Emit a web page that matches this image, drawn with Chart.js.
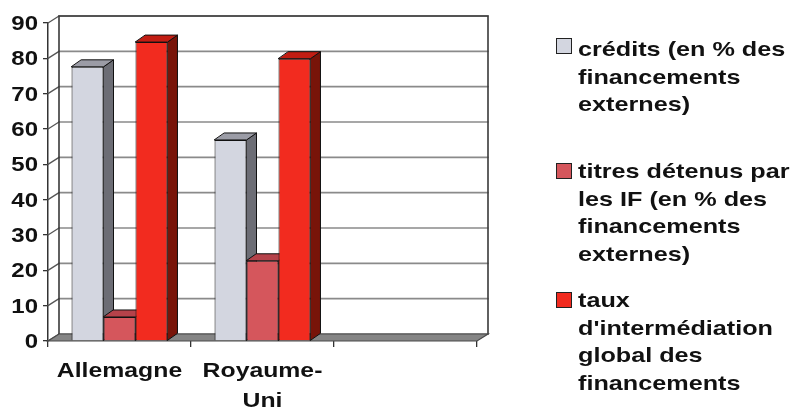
<!DOCTYPE html>
<html lang="fr">
<head>
<meta charset="utf-8">
<title>Intermédiation financière</title>
<script src="https://cdn.jsdelivr.net/npm/chart.js@4"></script>
<style>
  html, body { margin: 0; padding: 0; background: #fff; }
  #wrap { width: 795px; height: 412px; }
</style>
</head>
<body>
<div id="wrap"><canvas id="chart" width="795" height="412"></canvas></div>
<script>
// Categories (the third slot is left empty on purpose)
const categories = ['Allemagne', ['Royaume-', 'Uni'], ''];

// Series values, in %
const credits = [77.6, 56.9, null];
const titres  = [6.8, 22.7, null];
const taux    = [84.6, 79.9, null];

// Series names, already broken into lines
const nameCredits = ['crédits (en % des', 'financements', 'externes)'];
const nameTitres  = ['titres détenus par', 'les IF (en % des', 'financements', 'externes)'];
const nameTaux    = ['taux', "d'intermédiation", 'global des', 'financements'];

// Value axis tick labels
const yTicks = [0, 10, 20, 30, 40, 50, 60, 70, 80, 90];

// Face colours of the 3D columns: front, side, top
const faces = [
  { front: '#d3d6e0', side: '#6c6d75', top: '#9b9ca6' },
  { front: '#d5565c', side: '#8e2a2f', top: '#b5424a' },
  { front: '#f22b1f', side: '#781409', top: '#c21d13' }
];

const FONT = '"Liberation Sans", Arial, Helvetica, sans-serif';
const WALL_DX = 11, WALL_DY = 7;   // depth of the back wall
const BAR_DX = 10, BAR_DY = 7;     // depth of each column

function wideText(ctx, text, x, y, align, sx) {
  ctx.save();
  ctx.translate(x, y);
  ctx.scale(sx, 1);
  ctx.textAlign = align;
  ctx.fillText(text, 0, 0);
  ctx.restore();
}

function poly(ctx, pts, fill, stroke, lw) {
  ctx.beginPath();
  ctx.moveTo(pts[0][0], pts[0][1]);
  for (let i = 1; i < pts.length; i++) ctx.lineTo(pts[i][0], pts[i][1]);
  ctx.closePath();
  if (fill) { ctx.fillStyle = fill; ctx.fill(); }
  if (stroke) { ctx.strokeStyle = stroke; ctx.lineWidth = lw || 1; ctx.stroke(); }
}

// Back wall, side wall, floor and the depth faces of the columns
const box3d = {
  id: 'box3d',
  beforeDatasetsDraw(chart) {
    const ctx = chart.ctx;
    const a = chart.chartArea;
    const ys = chart.scales.y;
    const L = a.left, R = a.right, B = a.bottom;
    const yTop = ys.getPixelForValue(yTicks[yTicks.length - 1]);
    ctx.save();

    // back wall
    ctx.fillStyle = '#fff';
    ctx.fillRect(L + WALL_DX, yTop - WALL_DY, R - L, B - yTop);

    // grid lines on the back wall and their runs along the side wall
    ctx.lineCap = 'round';
    yTicks.forEach(v => {
      const y = ys.getPixelForValue(v);
      ctx.strokeStyle = '#8a8a8a';
      ctx.lineWidth = 1.6;
      ctx.beginPath();
      ctx.moveTo(L + WALL_DX, y - WALL_DY);
      ctx.lineTo(R + WALL_DX, y - WALL_DY);
      ctx.stroke();
      ctx.strokeStyle = '#555';
      ctx.lineWidth = 1.3;
      ctx.beginPath();
      ctx.moveTo(L, y);
      ctx.lineTo(L + WALL_DX, y - WALL_DY);
      ctx.stroke();
    });

    // wall outline
    ctx.strokeStyle = '#3a3a3a';
    ctx.lineWidth = 1.6;
    ctx.beginPath();
    ctx.moveTo(L + WALL_DX, B - WALL_DY);
    ctx.lineTo(L + WALL_DX, yTop - WALL_DY);
    ctx.lineTo(R + WALL_DX, yTop - WALL_DY);
    ctx.lineTo(R + WALL_DX, B - WALL_DY);
    ctx.stroke();

    // floor
    poly(ctx, [[L, B], [R, B], [R + WALL_DX, B - WALL_DY], [L + WALL_DX, B - WALL_DY]], '#858585', '#4a4a4a', 1.2);

    // side and top faces of the columns, left to right
    chart.data.datasets.forEach((ds, di) => {
      const meta = chart.getDatasetMeta(di);
      meta.data.forEach((el, i) => {
        if (ds.data[i] == null) return;
        const p = el.getProps(['x', 'y', 'base', 'width'], true);
        const l = p.x - p.width / 2, r = p.x + p.width / 2;
        poly(ctx, [[r, p.y], [r + BAR_DX, p.y - BAR_DY], [r + BAR_DX, p.base - BAR_DY], [r, p.base]],
             faces[di].side, '#111', 1);
        poly(ctx, [[l, p.y], [r, p.y], [r + BAR_DX, p.y - BAR_DY], [l + BAR_DX, p.y - BAR_DY]],
             faces[di].top, '#111', 1);
      });
    });
    ctx.restore();
  },

  // axis labels and the legend
  afterDraw(chart) {
    const ctx = chart.ctx;
    const ys = chart.scales.y, xs = chart.scales.x;
    ctx.save();
    ctx.fillStyle = '#111';
    ctx.textBaseline = 'alphabetic';

    ctx.font = 'bold 20px ' + FONT;
    yTicks.forEach(v => {
      wideText(ctx, String(v), ys.right - 10, ys.getPixelForValue(v) + 7, 'right', 1.2);
    });

    ctx.font = 'bold 21px ' + FONT;
    categories.forEach((c, i) => {
      const lines = Array.isArray(c) ? c : [c];
      const x = xs.getPixelForValue(i);
      lines.forEach((t, k) => {
        wideText(ctx, t, x, chart.chartArea.bottom + 36 + k * 30, 'center', 1.18);
      });
    });

    // legend
    const names = [nameCredits, nameTitres, nameTaux];
    const firstBaseline = [56, 178, 307];
    const boxTop = [38, 163, 292];
    names.forEach((lines, di) => {
      ctx.fillStyle = faces[di].front;
      ctx.fillRect(556.5, boxTop[di] + 0.5, 15, 15);
      ctx.strokeStyle = '#222';
      ctx.lineWidth = 1;
      ctx.strokeRect(556.5, boxTop[di] + 0.5, 15, 15);
      ctx.fillStyle = '#111';
      lines.forEach((t, k) => {
        wideText(ctx, t, 578, firstBaseline[di] + k * 27.5, 'left', 1.2);
      });
    });
    ctx.restore();
  }
};

new Chart(document.getElementById('chart'), {
  type: 'bar',
  data: {
    labels: categories,
    datasets: [
      { label: nameCredits.join(' '), data: credits, backgroundColor: faces[0].front },
      { label: nameTitres.join(' '),  data: titres,  backgroundColor: faces[1].front },
      { label: nameTaux.join(' '),    data: taux,    backgroundColor: faces[2].front }
    ]
  },
  options: {
    responsive: false,
    devicePixelRatio: 1,
    animation: false,
    datasets: {
      bar: { borderColor: '#111', borderWidth: 1, barPercentage: 1, categoryPercentage: 0.671 }
    },
    layout: { padding: { left: 0, top: 23, right: 318, bottom: 0 } },
    plugins: { legend: { display: false }, tooltip: { enabled: false } },
    scales: {
      x: {
        afterFit(s) { s.height = 71; },
        ticks: { display: false },
        grid: { offset: true, drawOnChartArea: false, drawTicks: true, tickLength: 6, color: '#333', lineWidth: 1.3 },
        border: { display: false }
      },
      y: {
        min: yTicks[0],
        max: yTicks[yTicks.length - 1],
        afterFit(s) { s.width = 48; },
        ticks: { display: false, stepSize: 10 },
        grid: { drawOnChartArea: false, drawTicks: true, tickLength: 5, color: '#333', lineWidth: 1.3 },
        border: { display: true, color: '#333', width: 1.5 }
      }
    }
  },
  plugins: [box3d]
});
</script>
</body>
</html>
